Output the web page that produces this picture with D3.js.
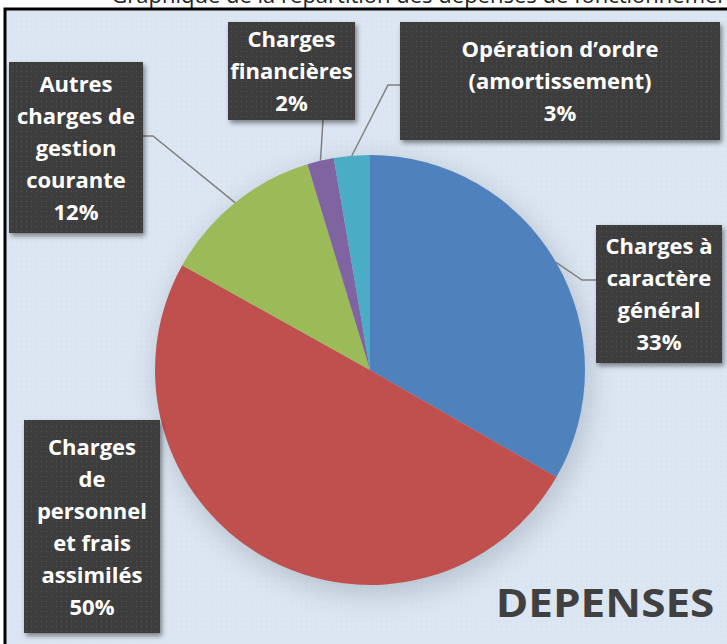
<!DOCTYPE html>
<meta charset="utf-8">
<style>
  body { margin: 0; background: #fff; overflow: hidden; }
  text { font-family: "Open Sans", Lato, sans-serif; }
</style>
<body>
<div id="chart"></div>
<script src="https://cdn.jsdelivr.net/npm/d3@7"></script>
<script>
// chart data
const categories = ["Charges à caractère général", "Charges de personnel et frais assimilés",
  "Autres charges de gestion courante", "Charges financières", "Opération d’ordre (amortissement)"];
const values = [33.3, 49.8, 12.2, 2.0, 2.7];
const labelLines = [
  ["Charges à", "caractère", "général"],
  ["Charges", "de", "personnel", "et frais", "assimilés"],
  ["Autres", "charges de", "gestion", "courante"],
  ["Charges", "financières"],
  ["Opération d’ordre", "(amortissement)"]
];
const colors = ["#4F81BD", "#C0504D", "#9BBB59", "#8064A2", "#4BACC6"];

// where the label boxes sit (x, y, w, h) and the elbow of each leader line
const boxes = [
  { x: 596, y: 225, w: 126, h: 138, ex: 582, ey: 280, ax: 596, ay: 280 },
  { x: 24, y: 420, w: 136, h: 213, ex: null },
  { x: 9, y: 62, w: 134, h: 171, ex: 153, ey: 136, ax: 143, ay: 136 },
  { x: 228, y: 22, w: 127, h: 98, ex: 323, ey: 120, ax: 323, ay: 120 },
  { x: 400, y: 22, w: 320, h: 118, ex: 388, ey: 85, ax: 400, ay: 85 }
];

const width = 727, height = 644;
const cx = 370, cy = 370, radius = 215;

const svg = d3.select("#chart").append("svg")
    .attr("width", width)
    .attr("height", height);

const defs = svg.append("defs");

// dotted texture for the label boxes and background
const dots = defs.append("pattern")
    .attr("id", "dots").attr("width", 5).attr("height", 5)
    .attr("patternUnits", "userSpaceOnUse");
dots.append("rect").attr("width", 5).attr("height", 5).attr("fill", "#3d3d3d");
dots.append("rect").attr("x", 1).attr("y", 1).attr("width", 1).attr("height", 1).attr("fill", "#555");

const bgDots = defs.append("pattern")
    .attr("id", "bgdots").attr("width", 5).attr("height", 5)
    .attr("patternUnits", "userSpaceOnUse");
bgDots.append("rect").attr("width", 5).attr("height", 5).attr("fill", "#dce6f2");
bgDots.append("rect").attr("x", 1).attr("y", 1).attr("width", 1).attr("height", 1).attr("fill", "#d3ddea");

const shadow = defs.append("filter").attr("id", "shadow")
    .attr("x", "-20%").attr("y", "-20%").attr("width", "140%").attr("height", "140%");
shadow.append("feDropShadow").attr("dx", 2).attr("dy", 3).attr("stdDeviation", 2.5)
    .attr("flood-color", "#000").attr("flood-opacity", 0.45);

const pieShadow = defs.append("filter").attr("id", "pieshadow")
    .attr("x", "-30%").attr("y", "-30%").attr("width", "160%").attr("height", "160%");
pieShadow.append("feGaussianBlur").attr("stdDeviation", 14);

// title, mostly cut off above the frame (as in the source image)
svg.append("text")
    .attr("x", 425).attr("y", 3)
    .attr("text-anchor", "middle")
    .attr("font-size", 22)
    .attr("fill", "#222")
    .text("Graphique de la répartition des dépenses de fonctionnement");

// frame
svg.append("rect")
    .attr("x", 5).attr("y", 9)
    .attr("width", width).attr("height", height)
    .attr("fill", "url(#bgdots)")
    .attr("stroke", "#000").attr("stroke-width", 3);

// soft shadow behind the pie
svg.append("circle")
    .attr("cx", cx + 4).attr("cy", cy + 8).attr("r", radius + 2)
    .attr("fill", "#8a96a6").attr("opacity", 0.45)
    .attr("filter", "url(#pieshadow)");

const pie = d3.pie().sort(null).value(d => d);
const arcs = pie(values);
const arc = d3.arc().innerRadius(0).outerRadius(radius);
const edge = d3.arc().innerRadius(radius).outerRadius(radius);

const g = svg.append("g").attr("transform", `translate(${cx},${cy})`);
g.selectAll("path")
    .data(arcs)
    .enter()
    .append("path")
    .attr("d", arc)
    .attr("fill", (d, i) => colors[i]);

// leader lines
arcs.forEach((d, i) => {
  const b = boxes[i];
  if (b.ex === null) return;
  const p = edge.centroid(d);
  svg.append("polyline")
      .attr("points", [[cx + p[0], cy + p[1]], [b.ex, b.ey], [b.ax, b.ay]].map(q => q.join(",")).join(" "))
      .attr("fill", "none")
      .attr("stroke", "#7f7f7f")
      .attr("stroke-width", 1.5);
});

// label boxes
const fmt = d3.format(".0%");
const total = d3.sum(values);
boxes.forEach((b, i) => {
  svg.append("rect")
      .attr("x", b.x).attr("y", b.y)
      .attr("width", b.w).attr("height", b.h)
      .attr("fill", "url(#dots)")
      .attr("filter", "url(#shadow)");
  const lines = labelLines[i].concat([fmt(values[i] / total)]);
  const lh = 32;
  const y0 = b.y + b.h / 2 - (lines.length - 1) * lh / 2 + 8;
  const t = svg.append("text")
      .attr("text-anchor", "middle")
      .attr("font-size", 22)
      .attr("font-weight", "bold")
      .attr("fill", "#fff");
  lines.forEach((s, k) => {
    t.append("tspan").attr("x", b.x + b.w / 2).attr("y", y0 + k * lh).text(s);
  });
});

svg.append("text")
    .attr("transform", "translate(605,617) scale(1.13,1)")
    .attr("text-anchor", "middle")
    .attr("font-size", 39)
    .attr("font-weight", "bold")
    .attr("fill", "#404040")
    .text("DEPENSES");
</script>
</body>
</html>
